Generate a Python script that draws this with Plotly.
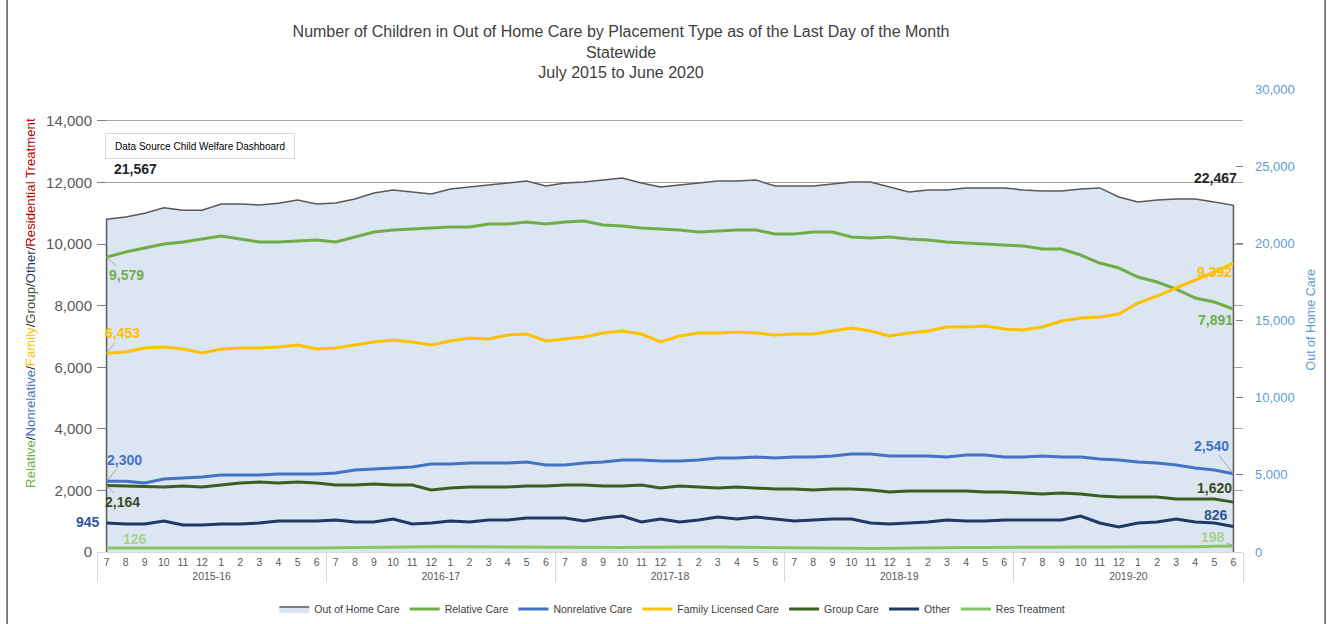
import plotly.graph_objects as go

years = ["2015-16", "2016-17", "2017-18", "2018-19", "2019-20"]
months = ["7", "8", "9", "10", "11", "12", "1", "2", "3", "4", "5", "6"]

out_of_home = [21567, 21700, 21950, 22300, 22150, 22150, 22550, 22550, 22480, 22600, 22810, 22550,
               22620, 22870, 23260, 23460, 23330, 23200, 23520, 23650, 23780, 23910, 24040, 23720,
               23910, 23980, 24100, 24235, 23910, 23650, 23780, 23910, 24040, 24040, 24100, 23720,
               23720, 23720, 23850, 23980, 23980, 23650, 23330, 23460, 23460, 23590, 23590, 23590,
               23460, 23390, 23390, 23520, 23590, 23000, 22680, 22810, 22870, 22870, 22680, 22467]
relative = [9579, 9744, 9874, 10004, 10069, 10166, 10264, 10166, 10069, 10069, 10101, 10134,
            10069, 10231, 10394, 10458, 10491, 10524, 10556, 10556, 10653, 10653, 10718, 10653,
            10718, 10751, 10621, 10588, 10524, 10491, 10458, 10394, 10426, 10458, 10458, 10329,
            10329, 10394, 10394, 10231, 10199, 10231, 10166, 10134, 10069, 10036, 10004, 9971,
            9939, 9841, 9841, 9646, 9387, 9224, 8932, 8770, 8542, 8250, 8120, 7891]
nonrelative = [2300, 2295, 2241, 2371, 2404, 2436, 2501, 2501, 2501, 2534, 2534, 2534,
               2566, 2663, 2696, 2728, 2761, 2858, 2858, 2891, 2891, 2891, 2923, 2826,
               2826, 2891, 2923, 2988, 2988, 2956, 2956, 2988, 3053, 3053, 3086, 3053,
               3086, 3086, 3118, 3183, 3183, 3118, 3118, 3118, 3086, 3151, 3151, 3086,
               3086, 3118, 3086, 3086, 3021, 2988, 2923, 2891, 2826, 2728, 2663, 2540]
family = [6453, 6496, 6626, 6658, 6593, 6463, 6593, 6626, 6626, 6658, 6723, 6593,
          6626, 6723, 6821, 6886, 6821, 6723, 6853, 6951, 6918, 7048, 7081, 6853,
          6918, 6983, 7113, 7178, 7081, 6821, 7016, 7113, 7113, 7146, 7113, 7048,
          7081, 7081, 7178, 7276, 7178, 7016, 7113, 7178, 7308, 7308, 7340, 7243,
          7211, 7308, 7503, 7600, 7633, 7730, 8088, 8315, 8575, 8835, 9094, 9392]
group = [2164, 2144, 2111, 2111, 2144, 2111, 2176, 2241, 2274, 2241, 2274, 2241,
         2176, 2176, 2209, 2176, 2176, 2014, 2079, 2111, 2111, 2111, 2144, 2144,
         2176, 2176, 2144, 2144, 2176, 2079, 2144, 2111, 2079, 2111, 2079, 2046,
         2046, 2014, 2046, 2046, 2014, 1949, 1981, 1981, 1981, 1981, 1949, 1949,
         1916, 1884, 1916, 1884, 1819, 1786, 1786, 1786, 1721, 1721, 1721, 1620]
other = [945, 909, 909, 1007, 877, 877, 909, 909, 942, 1007, 1007, 1007,
         1039, 974, 974, 1072, 909, 942, 1007, 974, 1039, 1039, 1104, 1104,
         1104, 1007, 1104, 1169, 974, 1072, 974, 1039, 1137, 1072, 1137, 1072,
         1007, 1039, 1072, 1072, 942, 909, 942, 974, 1039, 1007, 1007, 1039,
         1039, 1039, 1039, 1169, 942, 812, 942, 974, 1072, 974, 942, 826]
res_treatment = [126, 125, 124, 122, 120, 121, 122, 124, 126, 128, 130, 132,
                 140, 150, 160, 165, 170, 172, 170, 168, 166, 165, 160, 150,
                 140, 135, 140, 150, 155, 165, 170, 165, 160, 158, 155, 150,
                 145, 140, 130, 120, 115, 125, 135, 140, 145, 150, 150, 152,
                 150, 148, 150, 150, 152, 150, 150, 155, 160, 170, 185, 198]

left_ticks = list(range(0, 14001, 2000))
right_ticks = list(range(0, 30001, 5000))

x_year = [y for y in years for m in months]
x_month = [m for y in years for m in months]
n = len(x_month)
last = n - 1

FONT = "Liberation Sans, Arial, sans-serif"
LBLFONT = "Liberation Sans Narrow, Arial Narrow, Liberation Sans, Arial, sans-serif"

fig = go.Figure()

# Out of Home Care area (right axis, primary y)
fig.add_trace(go.Scatter(
    x=[[x_year[0]] + x_year + [x_year[-1]], [x_month[0]] + x_month + [x_month[-1]]],
    y=[0] + out_of_home + [0],
    name="Out of Home Care", mode="lines", fill="toself",
    fillcolor="#DCE6F2", line=dict(color="#595959", width=1.5),
    yaxis="y", hoverinfo="skip"))

series = [
    ("Relative Care", relative, "#70AD47"),
    ("Nonrelative Care", nonrelative, "#4472C4"),
    ("Family Licensed Care", family, "#FFC000"),
    ("Group Care", group, "#3B5E22"),
    ("Other", other, "#203864"),
    ("Res Treatment", res_treatment, "#86C564"),
]
for name, vals, col in series:
    fig.add_trace(go.Scatter(x=[x_year, x_month], y=vals, name=name, mode="lines",
                             line=dict(color=col, width=3), yaxis="y2"))

ann = []
def lab(xi, val, txt, col, yref, xs=0, ys=0, arrow=None):
    d = dict(x=xi, y=val, xref="x", yref=yref, text=txt,
             font=dict(family=LBLFONT, size=14, color=col), xanchor="center", yanchor="middle")
    if arrow:
        d.update(showarrow=True, ax=arrow[0], ay=arrow[1], arrowhead=0, arrowwidth=1,
                 arrowcolor="#A6A6A6", standoff=0)
    else:
        d.update(showarrow=False, xshift=xs, yshift=ys)
    ann.append(d)

lab(0, out_of_home[0], f"<b>{out_of_home[0]:,}</b>", "#262626", "y", 29, 50)
lab(last, out_of_home[-1], f"<b>{out_of_home[-1]:,}</b>", "#262626", "y", -18, 27)
lab(0, relative[0], f"<b>{relative[0]:,}</b>", "#70AD47", "y2", arrow=(20, 18))
lab(last, relative[-1], f"<b>{relative[-1]:,}</b>", "#70AD47", "y2", -18, -11)
lab(0, family[0], f"<b>{family[0]:,}</b>", "#FFC000", "y2", arrow=(16, -20))
lab(last, family[-1], f"<b>{family[-1]:,}</b>", "#FFC000", "y2", -19, -9)
lab(0, nonrelative[0], f"<b>{nonrelative[0]:,}</b>", "#4472C4", "y2", arrow=(18, -21))
lab(last, nonrelative[-1], f"<b>{nonrelative[-1]:,}</b>", "#4472C4", "y2", arrow=(-22, -28))
lab(0, group[0], f"<b>{group[0]:,}</b>", "#3B4A1F", "y2", arrow=(16, 17))
lab(last, group[-1], f"<b>{group[-1]:,}</b>", "#3B4A1F", "y2", -19, 14)
lab(0, other[0], f"<b>{other[0]:,}</b>", "#2F5597", "y2", -19, 1)
lab(last, other[-1], f"<b>{other[-1]:,}</b>", "#2F5597", "y2", -17, 12)
lab(0, res_treatment[0], f"<b>{res_treatment[0]:,}</b>", "#A9D18E", "y2", 28, 9)
lab(last, res_treatment[-1], f"<b>{res_treatment[-1]:,}</b>", "#A9D18E", "y2", arrow=(-20, -9))

# data source box
ann.append(dict(x=0.0899, y=0.877, xref="paper", yref="paper", showarrow=False,
                xanchor="center", yanchor="middle",
                text="Data Source Child Welfare Dashboard", width=180, height=16, borderpad=4,
                bordercolor="#D9D9D9", borderwidth=1, bgcolor="white",
                font=dict(family=FONT, size=10, color="#000000")))
# left axis title
ann.append(dict(x=-0.0576, y=0.538, xref="paper", yref="paper", showarrow=False, textangle=-90,
                xanchor="center", yanchor="middle",
                text=("<span style='color:#70AD47'>Relative</span>/"
                      "<span style='color:#4472C4'>Nonrelative</span>/"
                      "<span style='color:#FFC000'>Family</span>/"
                      "<span style='color:#375623'>Group</span>/"
                      "<span style='color:#203864'>Other</span>/"
                      "<span style='color:#C00000'>Residential Treatment</span>"),
                font=dict(family=FONT, size=13.2, color="#262626")))
# right axis title
ann.append(dict(x=1.0585, y=0.50, xref="paper", yref="paper", showarrow=False, textangle=-90,
                xanchor="center", yanchor="middle",
                text="Out of Home Care", font=dict(family=FONT, size=12.5, color="#5B9BD5")))

fig.update_layout(
    template="none",
    width=1331, height=624,
    margin=dict(l=97, r=88, t=89, b=72, autoexpand=False),
    paper_bgcolor="white", plot_bgcolor="white",
    font=dict(family=FONT, color="#595959"),
    title=dict(text="Number of Children in Out of Home Care by Placement Type as of the Last Day of the Month<br>Statewide<br>July 2015 to June 2020",
               x=0.4666, xanchor="center", y=0.941, yanchor="top",
               font=dict(family=FONT, size=16, color="#404040")),
    xaxis=dict(type="multicategory", range=[-0.5, n - 0.5], showgrid=False,
               showline=True, linecolor="#D9D9D9", linewidth=1,
               showdividers=True, dividercolor="#D9D9D9", dividerwidth=1, tickangle=0,
               tickfont=dict(family=FONT, size=10.5, color="#595959"), ticks=""),
    yaxis=dict(side="right", range=[0, 30000], tickvals=right_ticks, tickformat=",",
               showgrid=False, zeroline=False, ticks="inside", ticklen=7, tickcolor="#808080",
               tickfont=dict(family=FONT, size=13, color="#5B9BD5"), ticklabelstandoff=11),
    yaxis2=dict(overlaying="y", side="left", range=[0, 15039], tickvals=left_ticks, tickformat=",",
                showgrid=True, gridcolor="#A6A6A6", gridwidth=1, zeroline=False,
                ticks="inside", ticklen=9, tickcolor="#808080", ticklabelstandoff=4,
                tickfont=dict(family=FONT, size=15, color="#595959")),
    legend=dict(orientation="h", x=0.502, xanchor="center", y=-0.092, yanchor="top",
                font=dict(family=FONT, size=10.5, color="#404040"), itemwidth=30,
                bgcolor="rgba(0,0,0,0)"),
    annotations=ann,
    shapes=[dict(type="rect", xref="paper", yref="paper", x0=-0.0785, x1=1.0716,
                 y0=-0.17, y1=1.21, line=dict(color="#000000", width=1))],
    showlegend=True,
)

fig.write_html("out.html", config={"displayModeBar": False},
               post_script="document.body.style.margin='0';")
